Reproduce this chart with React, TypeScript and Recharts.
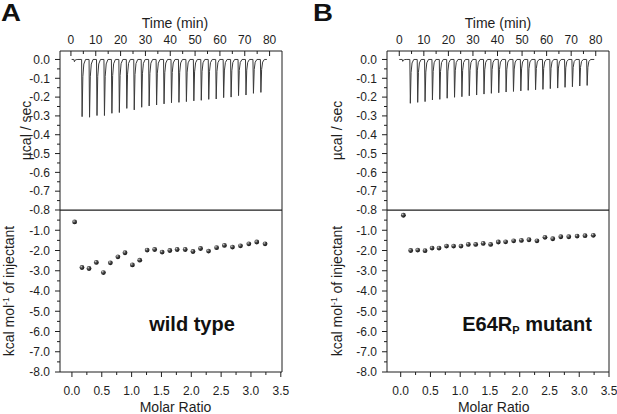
import React from 'react';
import { LineChart, Line, ScatterChart, Scatter, XAxis, YAxis, ReferenceLine } from 'recharts';

const FONT = '"Liberation Sans", Arial, Helvetica, sans-serif';
const INK = '#1e1e1e';

// raw thermograms: start of each injection (min) and depth of its peak (µcal/sec)
const injectionTimes = [1.2, 4.3, 7.3, 10.3, 13.3, 16.3, 19.3, 22.3, 25.3, 28.3, 31.3, 34.3, 37.3, 40.3, 43.3, 46.3, 49.3, 52.3, 55.3, 58.3, 61.3, 64.3, 67.3, 70.3, 73.3, 76.3];
const peaksWildType = [-0.012, -0.304, -0.307, -0.298, -0.298, -0.286, -0.282, -0.26, -0.268, -0.254, -0.247, -0.242, -0.236, -0.23, -0.228, -0.224, -0.22, -0.217, -0.212, -0.21, -0.203, -0.2, -0.192, -0.189, -0.18, -0.175];
const peaksMutant = [-0.01, -0.233, -0.228, -0.224, -0.215, -0.212, -0.206, -0.201, -0.198, -0.193, -0.189, -0.184, -0.18, -0.177, -0.173, -0.17, -0.167, -0.164, -0.161, -0.159, -0.155, -0.152, -0.148, -0.145, -0.141, -0.138];

// look of one injection peak: minutes after the injection, share of the peak depth
const peakProfile = [[0, 0], [0.2, 1], [0.5, 0.3], [0.9, 0.08], [1.6, 0]];

// integrated heats per injection (kcal/mol of injectant)
const molarRatio = [0.045, 0.168, 0.286, 0.409, 0.527, 0.644, 0.77, 0.889, 1.013, 1.136, 1.26, 1.386, 1.511, 1.64, 1.763, 1.898, 2.028, 2.155, 2.289, 2.424, 2.555, 2.69, 2.824, 2.964, 3.097, 3.236];
const heatWildType = [-0.59, -2.84, -2.89, -2.59, -3.09, -2.61, -2.31, -2.11, -2.71, -2.48, -1.98, -1.95, -2.08, -2.0, -1.95, -1.95, -2.05, -1.9, -2.03, -1.86, -1.75, -1.83, -1.77, -1.67, -1.58, -1.67];
const heatMutant = [-0.26, -2.0, -1.98, -2.01, -1.88, -1.88, -1.78, -1.78, -1.78, -1.7, -1.7, -1.65, -1.7, -1.58, -1.57, -1.52, -1.5, -1.47, -1.52, -1.35, -1.42, -1.32, -1.32, -1.29, -1.27, -1.25];

// axis ticks
const timeMajor = [0, 10, 20, 30, 40, 50, 60, 70, 80];
const timeMinor = [5, 15, 25, 35, 45, 55, 65, 75];
const rawMajor = [0, -0.1, -0.2, -0.3, -0.4, -0.5, -0.6, -0.7, -0.8];
const rawMinor = [-0.05, -0.15, -0.25, -0.35, -0.45, -0.55, -0.65, -0.75];
const heatMajor = [-1, -2, -3, -4, -5, -6, -7, -8];
const heatMinor = [-0.5, -1.5, -2.5, -3.5, -4.5, -5.5, -6.5, -7.5];
const ratioMajor = [0, 0.5, 1, 1.5, 2, 2.5, 3, 3.5];
const ratioMinor = [0.25, 0.75, 1.25, 1.75, 2.25, 2.75, 3.25];

function buildTrace(peaks: number[], start: number, end: number) {
  const rows = [{ t: start, v: 0 }];
  injectionTimes.forEach((t0, i) => {
    peakProfile.forEach(([dt, f]) => rows.push({ t: t0 + dt, v: peaks[i] * f }));
  });
  rows.push({ t: end, v: 0 });
  return rows;
}

const oneDecimal = (v: number) => v.toFixed(1);
const whole = (v: number) => String(v);

type Side = 'top' | 'left' | 'bottom';

const makeTick = (side: Side, majors: number[], fmt: (v: number) => string) => (props: any) => {
  const { x, y, payload } = props;
  const v = payload.value;
  const major = majors.some((m) => Math.abs(m - v) < 1e-9);
  const len = major ? 5 : 3;
  const txt = { fontSize: 12, fontFamily: FONT, fill: INK };
  if (side === 'top') {
    return (
      <g>
        <line x1={x} y1={y} x2={x} y2={y + len} stroke={INK} />
        {major && <text x={x} y={y - 7} textAnchor="middle" {...txt}>{fmt(v)}</text>}
      </g>
    );
  }
  if (side === 'left') {
    return (
      <g>
        <line x1={x - len} y1={y} x2={x} y2={y} stroke={INK} />
        {major && <text x={x - 10} y={y + 4.3} textAnchor="end" {...txt}>{fmt(v)}</text>}
      </g>
    );
  }
  return (
    <g>
      <line x1={x} y1={y} x2={x} y2={y + len} stroke={INK} />
      {major && <text x={x} y={y + 23} textAnchor="middle" {...txt}>{fmt(v)}</text>}
    </g>
  );
};

const SideTitle = (props: any) => {
  const vb = props.viewBox || { x: 0, y: 0, width: 60, height: 160 };
  const cx = vb.x + vb.width - props.gap;
  const cy = vb.y + vb.height / 2;
  return (
    <text x={cx} y={cy} transform={`rotate(-90 ${cx} ${cy})`} textAnchor="middle" fontSize={14} fontFamily={FONT} fill={INK}>
      {props.caption}
      {props.sup && <tspan dy={-5} fontSize={8.5}>{props.sup}</tspan>}
      {props.sup && <tspan dy={5}>{props.rest}</tspan>}
    </text>
  );
};

const AxisTitle = (props: any) => {
  const vb = props.viewBox || { x: 0, y: 0, width: 222, height: 50 };
  return (
    <text x={vb.x + vb.width / 2 + props.dx} y={vb.y + props.baseline} textAnchor="middle" fontSize={14} fontFamily={FONT} fill={INK}>
      {props.caption}
    </text>
  );
};

interface PanelProps {
  left: number;
  width: number;
  marginRight: number;
  letter: string;
  letterX: number;
  nameX: number;
  name: React.ReactNode;
  peaks: number[];
  heats: number[];
  timeDomain: [number, number];
  ratioDomain: [number, number];
  traceStart: number;
  traceEnd: number;
  rawGap: number;
  heatGap: number;
  timeDx: number;
  ratioDx: number;
  id: string;
}

function Panel(p: PanelProps) {
  const trace = buildTrace(p.peaks, p.traceStart, p.traceEnd);
  const points = molarRatio.map((r, i) => ({ r, h: p.heats[i] }));
  const rawDomain: [number, number] = [-0.8, 0.045];
  const heatDomain: [number, number] = [-8, 0];
  const ball = (s: any) => <circle cx={s.cx} cy={s.cy} r={2.4} fill={`url(#ball-${p.id})`} />;

  return (
    <div style={{ position: 'absolute', left: p.left, top: 0, width: p.width, height: 414 }}>
      <div style={{ position: 'absolute', left: p.letterX, top: 4.4, fontFamily: FONT, fontWeight: 700, fontSize: 24, lineHeight: '18px', color: '#111', transform: 'scaleX(1.15)', transformOrigin: 'left top' }}>
        {p.letter}
      </div>
      <div style={{ position: 'absolute', left: 0, top: 0 }}>
        <LineChart width={p.width} height={222} data={trace} margin={{ top: 0, right: p.marginRight, bottom: 12, left: 0 }}>
          <XAxis
            dataKey="t"
            type="number"
            orientation="top"
            domain={p.timeDomain}
            allowDataOverflow
            ticks={[...timeMajor, ...timeMinor]}
            interval={0}
            tickSize={0}
            tickMargin={0}
            height={51}
            axisLine={{ stroke: INK }}
            tick={makeTick('top', timeMajor, whole)}
            label={<AxisTitle caption="Time (min)" baseline={27.7} dx={p.timeDx} />}
          />
          <YAxis
            type="number"
            domain={rawDomain}
            allowDataOverflow
            ticks={[...rawMajor, ...rawMinor]}
            interval={0}
            tickSize={0}
            tickMargin={0}
            width={60}
            axisLine={{ stroke: INK }}
            tick={makeTick('left', rawMajor, oneDecimal)}
            label={<SideTitle caption="µcal / sec" gap={p.rawGap} />}
          />
          <ReferenceLine x={p.timeDomain[1]} stroke={INK} />
          <ReferenceLine y={rawDomain[0]} stroke={INK} />
          <Line type="linear" dataKey="v" stroke="#3a3a3a" strokeWidth={1} dot={false} isAnimationActive={false} />
        </LineChart>
      </div>
      <div style={{ position: 'absolute', left: 0, top: 210 }}>
        <ScatterChart width={p.width} height={204} margin={{ top: 0, right: p.marginRight, bottom: 0, left: 0 }}>
          <defs>
            <radialGradient id={`ball-${p.id}`} cx="35%" cy="32%" r="70%">
              <stop offset="0%" stopColor="#d8d8d8" />
              <stop offset="35%" stopColor="#555" />
              <stop offset="100%" stopColor="#0c0c0c" />
            </radialGradient>
          </defs>
          <XAxis
            dataKey="r"
            type="number"
            domain={p.ratioDomain}
            allowDataOverflow
            ticks={[...ratioMajor, ...ratioMinor]}
            interval={0}
            tickSize={0}
            tickMargin={0}
            height={42}
            axisLine={{ stroke: INK }}
            tick={makeTick('bottom', ratioMajor, oneDecimal)}
            label={<AxisTitle caption="Molar Ratio" baseline={39.5} dx={p.ratioDx} />}
          />
          <YAxis
            dataKey="h"
            type="number"
            domain={heatDomain}
            allowDataOverflow
            ticks={[...heatMajor, ...heatMinor]}
            interval={0}
            tickSize={0}
            tickMargin={0}
            width={60}
            axisLine={{ stroke: INK }}
            tick={makeTick('left', heatMajor, oneDecimal)}
            label={<SideTitle caption="kcal mol" sup="-1" rest=" of injectant" gap={p.heatGap} />}
          />
          <ReferenceLine x={p.ratioDomain[1]} stroke={INK} />
          <ReferenceLine y={heatDomain[1]} stroke={INK} />
          <Scatter data={points} shape={ball} isAnimationActive={false} />
        </ScatterChart>
      </div>
      <div style={{ position: 'absolute', left: p.nameX, top: 314, transform: 'translateX(-50%)', whiteSpace: 'nowrap', fontFamily: FONT, fontWeight: 700, fontSize: 20, lineHeight: '20px', color: '#111' }}>
        {p.name}
      </div>
    </div>
  );
}

export default function App() {
  return (
    <div style={{ position: 'absolute', left: 0, top: 0, width: 617, height: 414, background: '#fff', overflow: 'hidden' }}>
      <Panel
        id="a"
        left={0}
        width={300}
        marginRight={18}
        letter="A"
        letterX={1}
        nameX={192}
        name="wild type"
        peaks={peaksWildType}
        heats={heatWildType}
        timeDomain={[-4.4, 85]}
        ratioDomain={[-0.2, 3.52]}
        traceStart={0.3}
        traceEnd={78.9}
        rawGap={29.5}
        heatGap={46.5}
        timeDx={4}
        ratioDx={4.5}
      />
      <Panel
        id="b"
        left={327}
        width={290}
        marginRight={8}
        letter="B"
        letterX={-14}
        nameX={200}
        name={
          <span>
            E64R<span style={{ fontSize: 11, position: 'relative', top: 2.5 }}>P</span> mutant
          </span>
        }
        peaks={peaksMutant}
        heats={heatMutant}
        timeDomain={[-5, 85.4]}
        ratioDomain={[-0.23, 3.5]}
        traceStart={0}
        traceEnd={79.4}
        rawGap={44.7}
        heatGap={45.5}
        timeDx={0}
        ratioDx={-4.3}
      />
    </div>
  );
}
